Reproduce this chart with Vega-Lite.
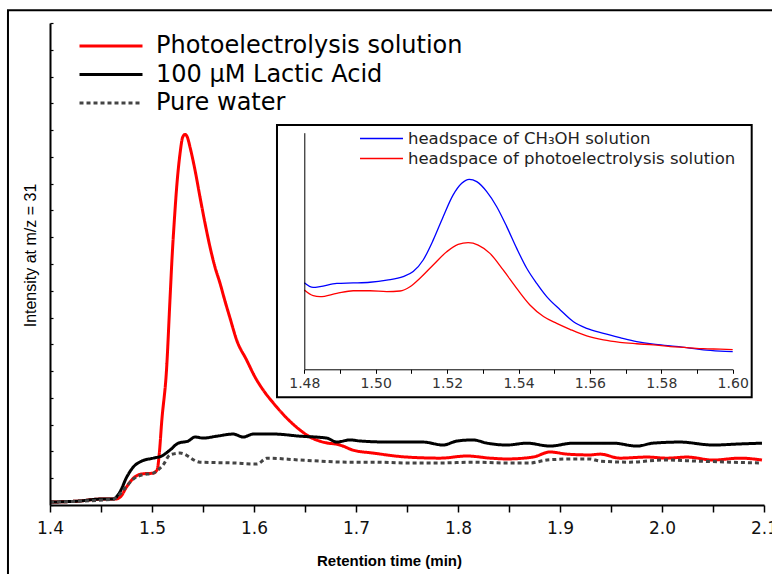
{
  "$schema": "https://vega.github.io/schema/vega-lite/v6.json",
  "width": 714,
  "height": 482,
  "autosize": {"type": "none"},
  "padding": {"left": 50, "top": 23, "right": 8, "bottom": 69},
  "background": "white",
  "config": {"view": {"stroke": null}, "font": "DejaVu Sans"},
  "datasets": {
    "main": [
      {"s": "Photoelectrolysis solution", "t": 1.400, "v": 0.11},
      {"s": "Photoelectrolysis solution", "t": 1.429, "v": 0.15},
      {"s": "Photoelectrolysis solution", "t": 1.449, "v": 0.22},
      {"s": "Photoelectrolysis solution", "t": 1.464, "v": 0.22},
      {"s": "Photoelectrolysis solution", "t": 1.469, "v": 0.30},
      {"s": "Photoelectrolysis solution", "t": 1.475, "v": 0.67},
      {"s": "Photoelectrolysis solution", "t": 1.482, "v": 1.01},
      {"s": "Photoelectrolysis solution", "t": 1.490, "v": 1.16},
      {"s": "Photoelectrolysis solution", "t": 1.501, "v": 1.19},
      {"s": "Photoelectrolysis solution", "t": 1.505, "v": 1.31},
      {"s": "Photoelectrolysis solution", "t": 1.5072, "v": 1.94},
      {"s": "Photoelectrolysis solution", "t": 1.5095, "v": 3.1},
      {"s": "Photoelectrolysis solution", "t": 1.5144, "v": 5.15},
      {"s": "Photoelectrolysis solution", "t": 1.5176, "v": 7.65},
      {"s": "Photoelectrolysis solution", "t": 1.5199, "v": 9.40},
      {"s": "Photoelectrolysis solution", "t": 1.5219, "v": 10.63},
      {"s": "Photoelectrolysis solution", "t": 1.5242, "v": 11.87},
      {"s": "Photoelectrolysis solution", "t": 1.5275, "v": 13.13},
      {"s": "Photoelectrolysis solution", "t": 1.5301, "v": 13.74},
      {"s": "Photoelectrolysis solution", "t": 1.5324, "v": 13.84},
      {"s": "Photoelectrolysis solution", "t": 1.5346, "v": 13.74},
      {"s": "Photoelectrolysis solution", "t": 1.5373, "v": 13.36},
      {"s": "Photoelectrolysis solution", "t": 1.5422, "v": 12.50},
      {"s": "Photoelectrolysis solution", "t": 1.5471, "v": 11.49},
      {"s": "Photoelectrolysis solution", "t": 1.5520, "v": 10.52},
      {"s": "Photoelectrolysis solution", "t": 1.5569, "v": 9.63},
      {"s": "Photoelectrolysis solution", "t": 1.5618, "v": 8.88},
      {"s": "Photoelectrolysis solution", "t": 1.5667, "v": 8.28},
      {"s": "Photoelectrolysis solution", "t": 1.5716, "v": 7.61},
      {"s": "Photoelectrolysis solution", "t": 1.5765, "v": 6.98},
      {"s": "Photoelectrolysis solution", "t": 1.5830, "v": 6.16},
      {"s": "Photoelectrolysis solution", "t": 1.5928, "v": 5.41},
      {"s": "Photoelectrolysis solution", "t": 1.6010, "v": 4.78},
      {"s": "Photoelectrolysis solution", "t": 1.6091, "v": 4.29},
      {"s": "Photoelectrolysis solution", "t": 1.6189, "v": 3.81},
      {"s": "Photoelectrolysis solution", "t": 1.6320, "v": 3.25},
      {"s": "Photoelectrolysis solution", "t": 1.6451, "v": 2.80},
      {"s": "Photoelectrolysis solution", "t": 1.6549, "v": 2.54},
      {"s": "Photoelectrolysis solution", "t": 1.6676, "v": 2.35},
      {"s": "Photoelectrolysis solution", "t": 1.6843, "v": 2.24},
      {"s": "Photoelectrolysis solution", "t": 1.6971, "v": 2.05},
      {"s": "Photoelectrolysis solution", "t": 1.7167, "v": 1.94},
      {"s": "Photoelectrolysis solution", "t": 1.7500, "v": 1.79},
      {"s": "Photoelectrolysis solution", "t": 1.7824, "v": 1.75},
      {"s": "Photoelectrolysis solution", "t": 1.8088, "v": 1.83},
      {"s": "Photoelectrolysis solution", "t": 1.8314, "v": 1.75},
      {"s": "Photoelectrolysis solution", "t": 1.8480, "v": 1.72},
      {"s": "Photoelectrolysis solution", "t": 1.8735, "v": 1.79},
      {"s": "Photoelectrolysis solution", "t": 1.8902, "v": 1.98},
      {"s": "Photoelectrolysis solution", "t": 1.9069, "v": 1.90},
      {"s": "Photoelectrolysis solution", "t": 1.9294, "v": 1.87},
      {"s": "Photoelectrolysis solution", "t": 1.9392, "v": 1.90},
      {"s": "Photoelectrolysis solution", "t": 1.9588, "v": 1.75},
      {"s": "Photoelectrolysis solution", "t": 1.9853, "v": 1.79},
      {"s": "Photoelectrolysis solution", "t": 2.0049, "v": 1.75},
      {"s": "Photoelectrolysis solution", "t": 2.0245, "v": 1.79},
      {"s": "Photoelectrolysis solution", "t": 2.0500, "v": 1.68},
      {"s": "Photoelectrolysis solution", "t": 2.0765, "v": 1.75},
      {"s": "Photoelectrolysis solution", "t": 2.0980, "v": 1.68},

      {"s": "100 μM Lactic Acid", "t": 1.400, "v": 0.11},
      {"s": "100 μM Lactic Acid", "t": 1.429, "v": 0.15},
      {"s": "100 μM Lactic Acid", "t": 1.449, "v": 0.22},
      {"s": "100 μM Lactic Acid", "t": 1.4618, "v": 0.22},
      {"s": "100 μM Lactic Acid", "t": 1.4686, "v": 0.49},
      {"s": "100 μM Lactic Acid", "t": 1.4752, "v": 1.04},
      {"s": "100 μM Lactic Acid", "t": 1.4817, "v": 1.42},
      {"s": "100 μM Lactic Acid", "t": 1.4899, "v": 1.64},
      {"s": "100 μM Lactic Acid", "t": 1.5013, "v": 1.75},
      {"s": "100 μM Lactic Acid", "t": 1.5095, "v": 1.83},
      {"s": "100 μM Lactic Acid", "t": 1.5176, "v": 2.05},
      {"s": "100 μM Lactic Acid", "t": 1.5258, "v": 2.31},
      {"s": "100 μM Lactic Acid", "t": 1.5356, "v": 2.39},
      {"s": "100 μM Lactic Acid", "t": 1.5422, "v": 2.54},
      {"s": "100 μM Lactic Acid", "t": 1.5503, "v": 2.50},
      {"s": "100 μM Lactic Acid", "t": 1.5634, "v": 2.57},
      {"s": "100 μM Lactic Acid", "t": 1.5797, "v": 2.65},
      {"s": "100 μM Lactic Acid", "t": 1.5895, "v": 2.54},
      {"s": "100 μM Lactic Acid", "t": 1.5993, "v": 2.65},
      {"s": "100 μM Lactic Acid", "t": 1.6189, "v": 2.65},
      {"s": "100 μM Lactic Acid", "t": 1.6451, "v": 2.57},
      {"s": "100 μM Lactic Acid", "t": 1.6713, "v": 2.50},
      {"s": "100 μM Lactic Acid", "t": 1.6811, "v": 2.35},
      {"s": "100 μM Lactic Acid", "t": 1.6941, "v": 2.43},
      {"s": "100 μM Lactic Acid", "t": 1.7039, "v": 2.39},
      {"s": "100 μM Lactic Acid", "t": 1.7333, "v": 2.35},
      {"s": "100 μM Lactic Acid", "t": 1.7657, "v": 2.35},
      {"s": "100 μM Lactic Acid", "t": 1.7853, "v": 2.24},
      {"s": "100 μM Lactic Acid", "t": 1.7990, "v": 2.39},
      {"s": "100 μM Lactic Acid", "t": 1.8147, "v": 2.43},
      {"s": "100 μM Lactic Acid", "t": 1.8284, "v": 2.31},
      {"s": "100 μM Lactic Acid", "t": 1.8480, "v": 2.24},
      {"s": "100 μM Lactic Acid", "t": 1.8676, "v": 2.31},
      {"s": "100 μM Lactic Acid", "t": 1.8902, "v": 2.20},
      {"s": "100 μM Lactic Acid", "t": 1.9127, "v": 2.31},
      {"s": "100 μM Lactic Acid", "t": 1.9294, "v": 2.31},
      {"s": "100 μM Lactic Acid", "t": 1.9520, "v": 2.31},
      {"s": "100 μM Lactic Acid", "t": 1.9755, "v": 2.20},
      {"s": "100 μM Lactic Acid", "t": 1.9912, "v": 2.31},
      {"s": "100 μM Lactic Acid", "t": 2.0176, "v": 2.35},
      {"s": "100 μM Lactic Acid", "t": 2.0500, "v": 2.24},
      {"s": "100 μM Lactic Acid", "t": 2.0765, "v": 2.28},
      {"s": "100 μM Lactic Acid", "t": 2.0980, "v": 2.31},

      {"s": "Pure water", "t": 1.400, "v": 0.11},
      {"s": "Pure water", "t": 1.4618, "v": 0.22},
      {"s": "Pure water", "t": 1.4686, "v": 0.41},
      {"s": "Pure water", "t": 1.4752, "v": 0.71},
      {"s": "Pure water", "t": 1.4817, "v": 0.97},
      {"s": "Pure water", "t": 1.4899, "v": 1.12},
      {"s": "Pure water", "t": 1.5013, "v": 1.19},
      {"s": "Pure water", "t": 1.5059, "v": 1.31},
      {"s": "Pure water", "t": 1.5108, "v": 1.49},
      {"s": "Pure water", "t": 1.5176, "v": 1.87},
      {"s": "Pure water", "t": 1.5275, "v": 1.94},
      {"s": "Pure water", "t": 1.5471, "v": 1.60},
      {"s": "Pure water", "t": 1.5794, "v": 1.57},
      {"s": "Pure water", "t": 1.6029, "v": 1.53},
      {"s": "Pure water", "t": 1.6127, "v": 1.75},
      {"s": "Pure water", "t": 1.6451, "v": 1.68},
      {"s": "Pure water", "t": 1.6941, "v": 1.60},
      {"s": "Pure water", "t": 1.7167, "v": 1.60},
      {"s": "Pure water", "t": 1.7500, "v": 1.57},
      {"s": "Pure water", "t": 1.7824, "v": 1.57},
      {"s": "Pure water", "t": 1.8147, "v": 1.60},
      {"s": "Pure water", "t": 1.8480, "v": 1.57},
      {"s": "Pure water", "t": 1.8706, "v": 1.57},
      {"s": "Pure water", "t": 1.8873, "v": 1.68},
      {"s": "Pure water", "t": 1.9127, "v": 1.72},
      {"s": "Pure water", "t": 1.9294, "v": 1.72},
      {"s": "Pure water", "t": 1.9392, "v": 1.64},
      {"s": "Pure water", "t": 1.9686, "v": 1.60},
      {"s": "Pure water", "t": 2.0010, "v": 1.68},
      {"s": "Pure water", "t": 2.0343, "v": 1.64},
      {"s": "Pure water", "t": 2.0667, "v": 1.60},
      {"s": "Pure water", "t": 2.0961, "v": 1.57}
    ],
    "inset": [
      {"s": "headspace of CH₃OH solution", "t": 1.4800, "v": 3.66},
      {"s": "headspace of CH₃OH solution", "t": 1.4825, "v": 3.46},
      {"s": "headspace of CH₃OH solution", "t": 1.4844, "v": 3.49},
      {"s": "headspace of CH₃OH solution", "t": 1.4891, "v": 3.63},
      {"s": "headspace of CH₃OH solution", "t": 1.4937, "v": 3.65},
      {"s": "headspace of CH₃OH solution", "t": 1.4984, "v": 3.68},
      {"s": "headspace of CH₃OH solution", "t": 1.5031, "v": 3.77},
      {"s": "headspace of CH₃OH solution", "t": 1.5077, "v": 3.92},
      {"s": "headspace of CH₃OH solution", "t": 1.5105, "v": 4.13},
      {"s": "headspace of CH₃OH solution", "t": 1.5133, "v": 4.62},
      {"s": "headspace of CH₃OH solution", "t": 1.5161, "v": 5.46},
      {"s": "headspace of CH₃OH solution", "t": 1.5189, "v": 6.45},
      {"s": "headspace of CH₃OH solution", "t": 1.5217, "v": 7.37},
      {"s": "headspace of CH₃OH solution", "t": 1.5241, "v": 7.86},
      {"s": "headspace of CH₃OH solution", "t": 1.5262, "v": 8.03},
      {"s": "headspace of CH₃OH solution", "t": 1.5283, "v": 7.93},
      {"s": "headspace of CH₃OH solution", "t": 1.5311, "v": 7.51},
      {"s": "headspace of CH₃OH solution", "t": 1.5339, "v": 6.87},
      {"s": "headspace of CH₃OH solution", "t": 1.5367, "v": 6.03},
      {"s": "headspace of CH₃OH solution", "t": 1.5395, "v": 5.11},
      {"s": "headspace of CH₃OH solution", "t": 1.5423, "v": 4.27},
      {"s": "headspace of CH₃OH solution", "t": 1.5451, "v": 3.63},
      {"s": "headspace of CH₃OH solution", "t": 1.5479, "v": 3.07},
      {"s": "headspace of CH₃OH solution", "t": 1.5517, "v": 2.51},
      {"s": "headspace of CH₃OH solution", "t": 1.5554, "v": 2.01},
      {"s": "headspace of CH₃OH solution", "t": 1.5591, "v": 1.73},
      {"s": "headspace of CH₃OH solution", "t": 1.5638, "v": 1.52},
      {"s": "headspace of CH₃OH solution", "t": 1.5684, "v": 1.34},
      {"s": "headspace of CH₃OH solution", "t": 1.5731, "v": 1.17},
      {"s": "headspace of CH₃OH solution", "t": 1.5778, "v": 1.06},
      {"s": "headspace of CH₃OH solution", "t": 1.5825, "v": 0.99},
      {"s": "headspace of CH₃OH solution", "t": 1.5871, "v": 0.92},
      {"s": "headspace of CH₃OH solution", "t": 1.5918, "v": 0.82},
      {"s": "headspace of CH₃OH solution", "t": 1.5965, "v": 0.77},
      {"s": "headspace of CH₃OH solution", "t": 1.6000, "v": 0.75},

      {"s": "headspace of photoelectrolysis solution", "t": 1.4800, "v": 3.35},
      {"s": "headspace of photoelectrolysis solution", "t": 1.4825, "v": 3.11},
      {"s": "headspace of photoelectrolysis solution", "t": 1.4844, "v": 3.07},
      {"s": "headspace of photoelectrolysis solution", "t": 1.4891, "v": 3.21},
      {"s": "headspace of photoelectrolysis solution", "t": 1.4937, "v": 3.32},
      {"s": "headspace of photoelectrolysis solution", "t": 1.4984, "v": 3.32},
      {"s": "headspace of photoelectrolysis solution", "t": 1.5031, "v": 3.28},
      {"s": "headspace of photoelectrolysis solution", "t": 1.5068, "v": 3.31},
      {"s": "headspace of photoelectrolysis solution", "t": 1.5096, "v": 3.49},
      {"s": "headspace of photoelectrolysis solution", "t": 1.5124, "v": 3.85},
      {"s": "headspace of photoelectrolysis solution", "t": 1.5161, "v": 4.41},
      {"s": "headspace of photoelectrolysis solution", "t": 1.5199, "v": 4.97},
      {"s": "headspace of photoelectrolysis solution", "t": 1.5231, "v": 5.28},
      {"s": "headspace of photoelectrolysis solution", "t": 1.5259, "v": 5.35},
      {"s": "headspace of photoelectrolysis solution", "t": 1.5287, "v": 5.25},
      {"s": "headspace of photoelectrolysis solution", "t": 1.5320, "v": 4.90},
      {"s": "headspace of photoelectrolysis solution", "t": 1.5357, "v": 4.20},
      {"s": "headspace of photoelectrolysis solution", "t": 1.5395, "v": 3.42},
      {"s": "headspace of photoelectrolysis solution", "t": 1.5432, "v": 2.72},
      {"s": "headspace of photoelectrolysis solution", "t": 1.5470, "v": 2.23},
      {"s": "headspace of photoelectrolysis solution", "t": 1.5507, "v": 1.94},
      {"s": "headspace of photoelectrolysis solution", "t": 1.5544, "v": 1.69},
      {"s": "headspace of photoelectrolysis solution", "t": 1.5591, "v": 1.41},
      {"s": "headspace of photoelectrolysis solution", "t": 1.5638, "v": 1.24},
      {"s": "headspace of photoelectrolysis solution", "t": 1.5684, "v": 1.14},
      {"s": "headspace of photoelectrolysis solution", "t": 1.5731, "v": 1.08},
      {"s": "headspace of photoelectrolysis solution", "t": 1.5778, "v": 1.03},
      {"s": "headspace of photoelectrolysis solution", "t": 1.5825, "v": 0.96},
      {"s": "headspace of photoelectrolysis solution", "t": 1.5871, "v": 0.92},
      {"s": "headspace of photoelectrolysis solution", "t": 1.5918, "v": 0.87},
      {"s": "headspace of photoelectrolysis solution", "t": 1.5965, "v": 0.85},
      {"s": "headspace of photoelectrolysis solution", "t": 1.6000, "v": 0.83}
    ]
  },
  "layer": [
    {
      "layer": [
        {
          "data": {"values": [{}]},
          "mark": {"type": "rect", "fill": null, "stroke": "black", "strokeWidth": 2},
          "encoding": {
            "x": {"datum": 1.3588, "type": "quantitative"},
            "x2": {"datum": 2.3},
            "y": {"datum": 18.48, "type": "quantitative"},
            "y2": {"datum": -5}
          }
        },
        {
          "data": {"name": "main"},
          "mark": {"type": "line", "interpolate": "monotone"},
          "encoding": {
            "x": {
              "field": "t", "type": "quantitative",
              "scale": {"domain": [1.4, 2.1], "nice": false, "zero": false},
              "axis": {
                "values": [1.4, 1.45, 1.5, 1.55, 1.6, 1.65, 1.7, 1.75, 1.8, 1.85, 1.9, 1.95, 2.0, 2.05, 2.1],
                "labelExpr": "abs(datum.value*10 - round(datum.value*10)) < 0.01 ? format(datum.value, '.1f') : ''",
                "title": "Retention time (min)",
                "titleFont": "Liberation Sans", "titleFontSize": 15, "titleFontWeight": "bold",
                "titleX": 339, "titleY": 60, "titleBaseline": "alphabetic", "titleAlign": "center", "titleColor": "black",
                "labelFont": "DejaVu Sans", "labelFontSize": 17, "labelColor": "#111", "labelPadding": 8,
                "tickSize": 7, "tickColor": "black", "tickWidth": 1.5,
                "domainColor": "black", "domainWidth": 2, "grid": false, "labelFlush": false, "zindex": 1
              }
            },
            "y": {
              "field": "v", "type": "quantitative",
              "scale": {"domain": [0, 18], "nice": false, "zero": false},
              "axis": {
                "tickCount": 18,
                "labelExpr": "''", "labelOverlap": false,
                "title": "Intensity at m/z = 31",
                "titleFont": "Liberation Sans", "titleFontSize": 16, "titleFontWeight": "normal", "titleColor": "black",
                "titleX": -20, "titleY": 232, "titleAngle": -90, "titleAlign": "center", "titleBaseline": "middle",
                "tickSize": -3, "tickColor": "black", "tickWidth": 1.2,
                "domainColor": "black", "domainWidth": 2, "grid": false, "zindex": 1
              }
            },
            "color": {
              "field": "s", "type": "nominal",
              "scale": {"domain": ["Photoelectrolysis solution", "100 μM Lactic Acid", "Pure water"], "range": ["#ff0000", "#000000", "#444444"]},
              "legend": {
                "orient": "none", "legendX": 49, "legendY": 11, "title": null, "padding": 0,
                "labelFont": "DejaVu Sans", "labelFontSize": 24, "labelColor": "black", "labelLimit": 500,
                "symbolType": "M-3,0H3", "symbolSize": 441, "labelOffset": 33, "rowPadding": 4.5
              }
            },
            "strokeDash": {
              "field": "s", "type": "nominal",
              "scale": {"domain": ["Photoelectrolysis solution", "100 μM Lactic Acid", "Pure water"], "range": [[1, 0], [1, 0], [4, 3]]}
            },
            "strokeWidth": {
              "field": "s", "type": "nominal",
              "scale": {"domain": ["Photoelectrolysis solution", "100 μM Lactic Acid", "Pure water"], "range": [3, 3, 1]}
            },
            "order": {"field": "t", "type": "quantitative"}
          }
        }
      ]
    },
    {
      "layer": [
        {
          "data": {"values": [{}]},
          "mark": {"type": "rect", "fill": "white", "stroke": "black", "strokeWidth": 2},
          "encoding": {
            "x": {"datum": 1.47235, "type": "quantitative"},
            "x2": {"datum": 1.60532},
            "y": {"datum": 10.33, "type": "quantitative"},
            "y2": {"datum": -1.18}
          }
        },
        {
          "data": {"name": "inset"},
          "mark": {"type": "line", "interpolate": "monotone", "strokeWidth": 1.3},
          "encoding": {
            "x": {
              "field": "t", "type": "quantitative",
              "scale": {"domain": [1.48, 1.60], "range": [254.3, 682.7], "nice": false, "zero": false},
              "axis": {
                "orient": "bottom", "offset": -135.7,
                "values": [1.48, 1.49, 1.50, 1.51, 1.52, 1.53, 1.54, 1.55, 1.56, 1.57, 1.58, 1.59, 1.60],
                "labelExpr": "round(datum.value*100) % 2 == 0 ? format(datum.value, '.2f') : ''",
                "title": null,
                "labelFont": "DejaVu Sans", "labelFontSize": 14, "labelColor": "#333", "labelPadding": 3,
                "tickSize": 4, "tickColor": "black", "tickWidth": 1,
                "domainColor": "black", "domainWidth": 1, "grid": false, "labelFlush": false, "zindex": 2
              }
            },
            "y": {
              "field": "v", "type": "quantitative",
              "scale": {"domain": [0, 10], "range": [346.3, 109.7], "nice": false, "zero": false},
              "axis": {
                "orient": "left", "offset": -254.3,
                "labels": false, "ticks": false, "title": null,
                "domainColor": "black", "domainWidth": 1, "grid": false, "zindex": 2
              }
            },
            "color": {
              "field": "s", "type": "nominal",
              "scale": {"domain": ["headspace of CH₃OH solution", "headspace of photoelectrolysis solution"], "range": ["#0000ff", "#ff0000"]},
              "legend": {
                "orient": "none", "legendX": 320, "legendY": 104, "title": null, "padding": 0,
                "labelFont": "DejaVu Sans", "labelFontSize": 16.5, "labelColor": "#222", "labelLimit": 500,
                "symbolType": "M-2,0H2", "symbolSize": 462, "symbolStrokeWidth": 1.5, "labelOffset": 15, "rowPadding": 0
              }
            },
            "order": {"field": "t", "type": "quantitative"}
          }
        }
      ]
    }
  ],
  "resolve": {
    "scale": {"x": "independent", "y": "independent", "color": "independent", "strokeDash": "independent", "strokeWidth": "independent"},
    "axis": {"x": "independent", "y": "independent"},
    "legend": {"color": "independent"}
  }
}
